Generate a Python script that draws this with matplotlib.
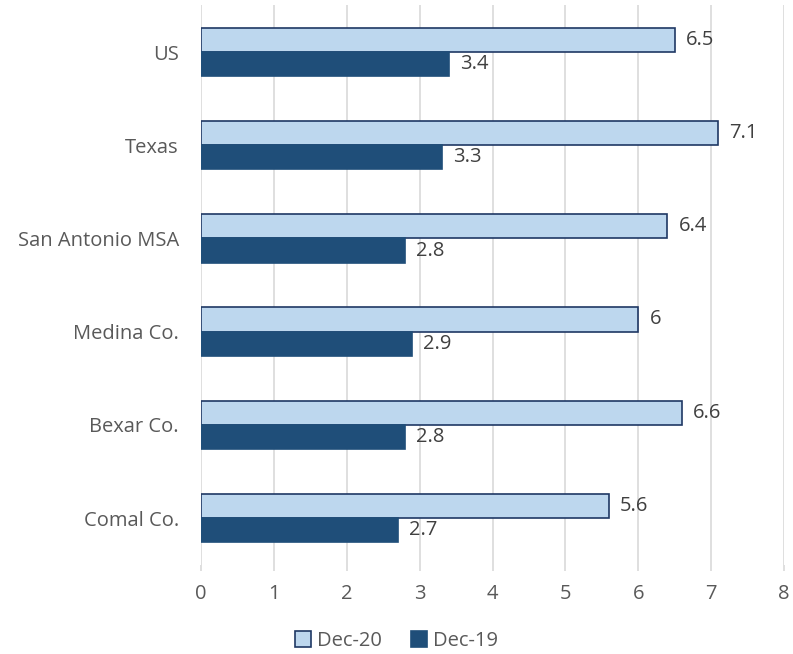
import numpy as np
import matplotlib
matplotlib.use('Agg')
import matplotlib.pyplot as plt

categories = ['US', 'Texas', 'San Antonio MSA', 'Medina Co.', 'Bexar Co.', 'Comal Co.']
dec20 = [6.5, 7.1, 6.4, 6.0, 6.6, 5.6]
dec19 = [3.4, 3.3, 2.8, 2.9, 2.8, 2.7]
dec20_labels = ['6.5', '7.1', '6.4', '6', '6.6', '5.6']
dec19_labels = ['3.4', '3.3', '2.8', '2.9', '2.8', '2.7']

plt.rcParams['font.family'] = ['Open Sans', 'DejaVu Sans']
TXT = '#595959'

fig = plt.figure(figsize=(7.93, 6.54), dpi=100)
ax = fig.add_axes([0.2535, 0.1367, 0.7352, 0.855])

y = np.arange(len(categories))
h = 0.26
b1 = ax.barh(y - h / 2, dec20, h, color='#BDD7EE', edgecolor='#1F3864', linewidth=1.2, label='Dec-20')
b2 = ax.barh(y + h / 2, dec19, h, color='#1F4E79', edgecolor='#1F4E79', linewidth=1.2, label='Dec-19')
ax.bar_label(b1, labels=dec20_labels, padding=8, fontsize=14.5, color='#404040')
ax.bar_label(b2, labels=dec19_labels, padding=8, fontsize=14.5, color='#404040')

ax.set_ylim(len(categories) - 0.5, -0.5)
ax.set_xlim(0, 8)
ax.set_yticks(y)
ax.set_yticklabels(categories)
ax.set_xticks(range(0, 9))
ax.tick_params(axis='y', length=0, labelsize=14.5, colors=TXT, pad=16)
ax.tick_params(axis='x', length=4, width=1.2, color='#D9D9D9', labelsize=14.5,
               labelcolor=TXT, pad=10)
ax.grid(axis='x', color='#D9D9D9', linewidth=1.2)
ax.set_axisbelow(True)
for s in ax.spines.values():
    s.set_visible(False)

fig.legend(handles=[b1, b2], loc='center', bbox_to_anchor=(0.5, 1 - 641 / 654), ncol=2,
           frameon=False, fontsize=14.5, labelcolor=TXT, handlelength=0.8, handleheight=0.8,
           handletextpad=0.3, columnspacing=1.4)

fig.savefig('out.png', dpi=100)
